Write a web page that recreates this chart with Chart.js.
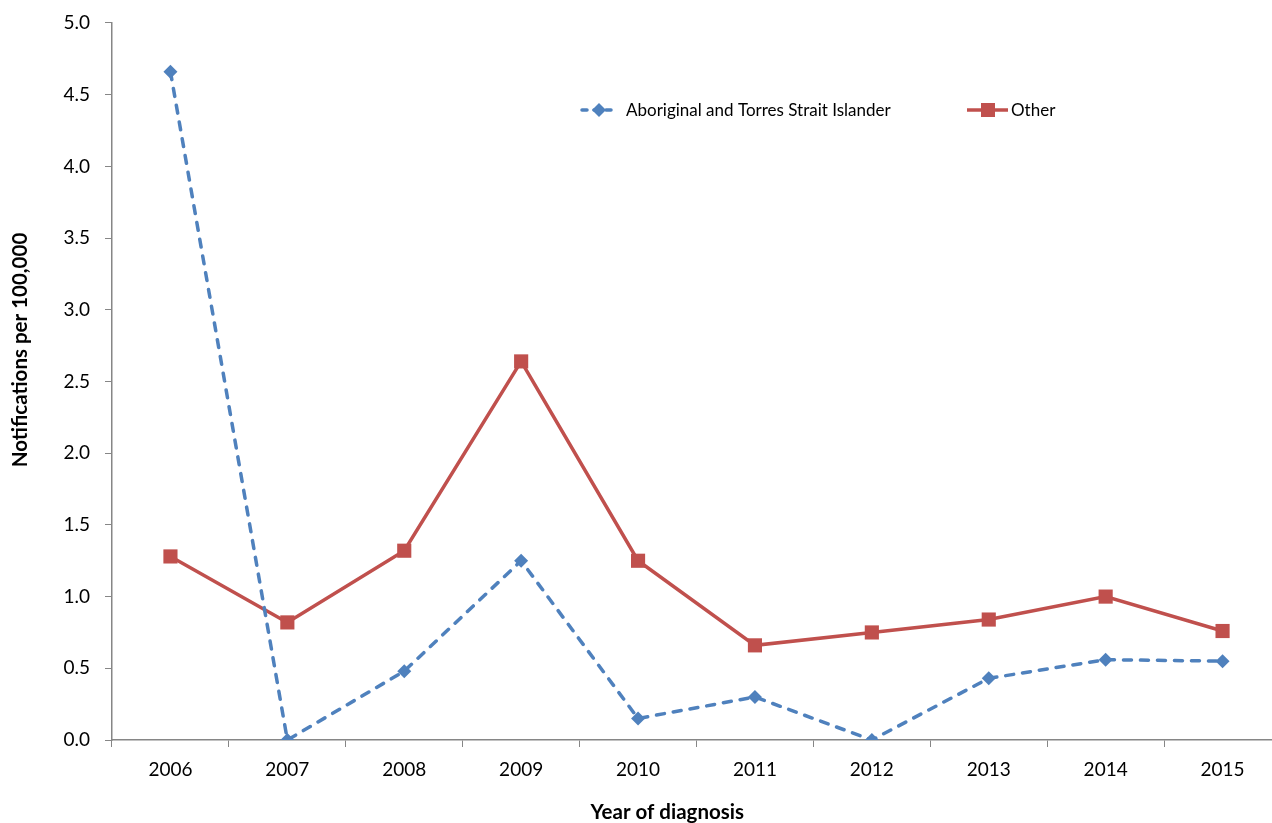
<!DOCTYPE html>
<html>
<head>
<meta charset="utf-8">
<script src="https://cdn.jsdelivr.net/npm/chart.js@4/dist/chart.umd.min.js"></script>
<style>
  html, body { margin: 0; padding: 0; background: #fff; overflow: hidden; width: 1272px; height: 823px; }
  #wrap { position: absolute; left: 0; top: 0; width: 1291px; height: 823px; }
</style>
</head>
<body>
<div id="wrap"><canvas id="c" width="1291" height="823"></canvas></div>
<script>
const years = ['2006','2007','2008','2009','2010','2011','2012','2013','2014','2015'];
const aboriginal = [4.66, 0.00, 0.48, 1.25, 0.15, 0.30, 0.00, 0.43, 0.56, 0.55];
const other = [1.28, 0.82, 1.32, 2.64, 1.25, 0.66, 0.75, 0.84, 1.00, 0.76];
const seriesNames = ['Aboriginal and Torres Strait Islander', 'Other'];
const yTickLabels = ['0.0','0.5','1.0','1.5','2.0','2.5','3.0','3.5','4.0','4.5','5.0'];
const yTitle = 'Notifications per 100,000';
const xTitle = 'Year of diagnosis';

const BLUE = '#4F81BD';
const RED = '#C0504D';
const AXIS = '#868686';
const FONT = 'Lato';

const extras = {
  id: 'extras',
  afterDraw(chart) {
    const ctx = chart.ctx;
    const ca = chart.chartArea;
    const xs = chart.scales.x;
    ctx.save();
    // axis titles
    ctx.fillStyle = '#000';
    ctx.font = 'bold 20.5px ' + FONT;
    ctx.textAlign = 'center';
    ctx.textBaseline = 'middle';
    const xMid = (ca.left + xs.getPixelForValue(years.length - 1)) / 2;
    ctx.fillText(xTitle, xMid, 812);
    ctx.save();
    ctx.translate(20, 350);
    ctx.rotate(-Math.PI / 2);
    ctx.fillText(yTitle, 0, 0);
    ctx.restore();

    // legend
    const ly = 110;
    ctx.font = '17px ' + FONT;
    ctx.textAlign = 'left';
    ctx.textBaseline = 'middle';
    // blue
    ctx.strokeStyle = BLUE;
    ctx.lineWidth = 3.5;
    ctx.lineCap = 'round';
    ctx.setLineDash([5, 7]);
    ctx.beginPath(); ctx.moveTo(582, ly); ctx.lineTo(616, ly); ctx.stroke();
    ctx.setLineDash([]);
    ctx.fillStyle = BLUE;
    ctx.beginPath();
    ctx.moveTo(599, ly - 7); ctx.lineTo(606, ly); ctx.lineTo(599, ly + 7); ctx.lineTo(592, ly);
    ctx.closePath(); ctx.fill();
    ctx.fillStyle = '#000';
    ctx.fillText(seriesNames[0], 626, ly + 1);
    // red
    ctx.strokeStyle = RED;
    ctx.lineCap = 'butt';
    ctx.beginPath(); ctx.moveTo(967, ly); ctx.lineTo(1008, ly); ctx.stroke();
    ctx.fillStyle = RED;
    ctx.fillRect(981, ly - 7, 14, 14);
    ctx.fillStyle = '#000';
    ctx.fillText(seriesNames[1], 1011, ly + 1);
    ctx.restore();
  }
};

new Chart(document.getElementById('c'), {
  type: 'line',
  data: {
    labels: years,
    datasets: [
      {
        label: seriesNames[0],
        data: aboriginal,
        borderColor: BLUE,
        backgroundColor: BLUE,
        borderWidth: 3.5,
        borderDash: [8, 9],
        borderCapStyle: 'round',
        pointStyle: 'rectRot',
        pointRadius: 7,
        pointBorderWidth: 0,
        pointBackgroundColor: BLUE,
        tension: 0,
        order: 1
      },
      {
        label: seriesNames[1],
        data: other,
        borderColor: RED,
        backgroundColor: RED,
        borderWidth: 3.5,
        pointStyle: 'rect',
        pointRadius: 10,
        pointBorderWidth: 0,
        pointBackgroundColor: RED,
        tension: 0,
        order: 2
      }
    ]
  },
  options: {
    responsive: false,
    animation: false,
    devicePixelRatio: 1,
    layout: { padding: { top: 0, left: 0, right: 0, bottom: 0 } },
    plugins: { legend: { display: false }, tooltip: { enabled: false }, title: { display: false } },
    scales: {
      x: {
        type: 'category',
        offset: true,
        grid: { offset: true, drawOnChartArea: false, drawTicks: true, tickLength: 7, color: AXIS, lineWidth: 1 },
        border: { color: AXIS, width: 1.5 },
        ticks: { color: '#000', font: { family: FONT, size: 19 }, padding: 11, maxRotation: 0, autoSkip: false },
        afterFit(s) { s.height = 83; }
      },
      y: {
        min: 0, max: 5,
        grid: { drawOnChartArea: false, drawTicks: true, tickLength: 7, color: AXIS, lineWidth: 1 },
        border: { color: AXIS, width: 1.5 },
        ticks: {
          stepSize: 0.5,
          color: '#000',
          font: { family: FONT, size: 19, lineHeight: 0.84 },
          padding: 15,
          callback: (v, i) => yTickLabels[i]
        },
        afterFit(s) { s.width = 112; }
      }
    }
  },
  plugins: [extras]
});
</script>
</body>
</html>
